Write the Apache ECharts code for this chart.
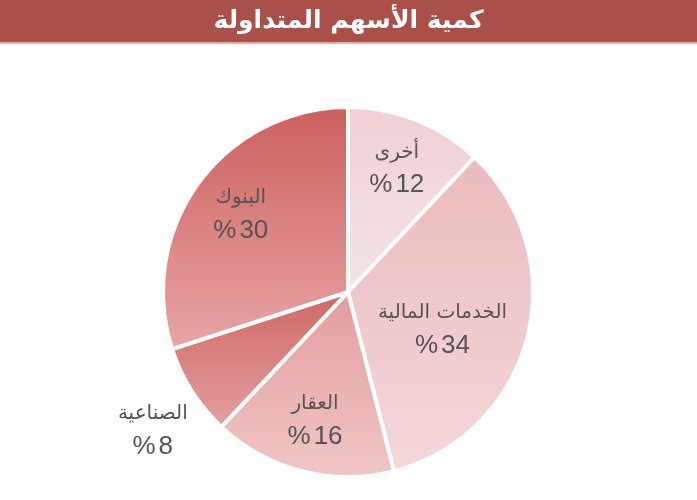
<!DOCTYPE html>
<html>
<head>
<meta charset="utf-8">
<script src="https://cdn.jsdelivr.net/npm/echarts@6/dist/echarts.min.js"></script>
<style>
  html, body { margin: 0; padding: 0; background: #fff; }
  #main { width: 697px; height: 500px; }
</style>
</head>
<body>
<div id="main"></div>
<script>
// البيانات
const names = ['أخرى', 'الخدمات المالية', 'العقار', 'الصناعية', 'البنوك']
const values = [12, 34, 16, 8, 30]
// تدرج كل شريحة: أعلى ← أسفل
const topColors = ['#efd0d3', '#ebbbbe', '#e29d9d', '#cf6763', '#cc605d']
const bottomColors = ['#f6e5e7', '#f4d8da', '#f1c6c7', '#e3a0a0', '#e8a6a6']

const font = 'DejaVu Sans'
const center = [348, 292]
const radius = 185

const grad = (i) => new echarts.graphic.LinearGradient(0, 0, 0, 1, [
  { offset: 0, color: topColors[i] },
  { offset: 1, color: bottomColors[i] }
])

const labelRich = {
  n: { fontSize: 20, color: '#555', fontFamily: font, lineHeight: 33, align: 'center' },
  s: { fontSize: 26, color: '#555', fontFamily: 'Liberation Sans', lineHeight: 33, align: 'center' },
  p: { fontSize: 26, color: '#555', fontFamily: 'Liberation Sans', lineHeight: 33, align: 'center', padding: [0, 0, 0, 3] }
}
const fmt = (p) => `{n|${p.name}}\n{s|%}{p|${p.value}}`

const myChart = echarts.init(document.getElementById('main'))
let option = {
  animation: false,
  title: {
    text: 'كمية الأسهم المتداولة',
    left: 'center',
    top: 4,
    textStyle: { color: '#fff', fontSize: 25, fontWeight: 'bold', fontFamily: font }
  },
  graphic: [
    { type: 'rect', left: 0, top: 0, shape: { width: 697, height: 42 }, style: { fill: '#ab4f49' }, z: -1 },
    { type: 'rect', left: 0, top: 42, shape: { width: 697, height: 2 }, style: { fill: '#dfb2af' }, z: -1 }
  ],
  series: [
    {
      type: 'pie',
      center: center,
      radius: radius,
      startAngle: 90,
      clockwise: true,
      silent: true,
      itemStyle: { borderColor: '#fff', borderWidth: 4 },
      label: { show: false },
      labelLine: { show: false },
      data: names.map((n, i) => {
        let item = { name: n, value: values[i], itemStyle: { color: grad(i) } }
        if (i === 1) {
          item.label = { show: true, position: 'inside', formatter: fmt, rich: labelRich, align: 'center' }
        }
        if (i === 3) {
          item.label = { show: true, position: 'outside', formatter: fmt, rich: labelRich, align: 'center', distanceToLabelLine: 0 }
          item.labelLine = { show: false, length: 25, length2: 0 }
        }
        return item
      }),
      labelLayout: function (params) {
        if (params.dataIndex === 1) return { dy: 14, dx: 2 }
        if (params.dataIndex === 3) return { dy: 26, dx: 17 }
      }
    },
    {
      // سلسلة شفافة لوضع التسميات داخل الشرائح
      type: 'pie',
      center: center,
      radius: [74, radius],
      startAngle: 90,
      clockwise: true,
      silent: true,
      itemStyle: { color: 'rgba(0,0,0,0)' },
      labelLine: { show: false },
      label: { show: true, position: 'inside', formatter: fmt, rich: labelRich, align: 'center' },
      data: names.map((n, i) => ({
        name: n,
        value: values[i],
        label: { show: i === 0 || i === 2 || i === 4 }
      }))
    }
  ]
}
myChart.setOption(option)
</script>
</body>
</html>
